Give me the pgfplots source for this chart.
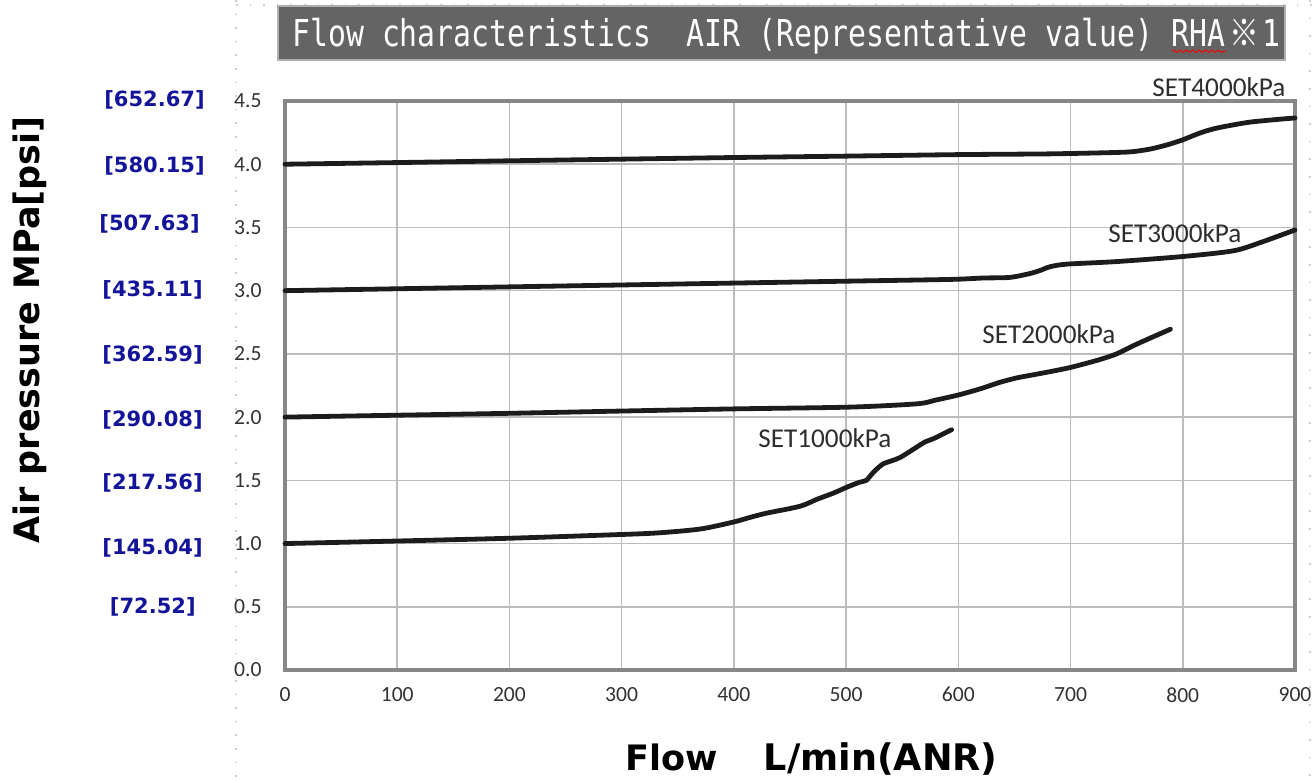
\documentclass[border=0pt]{standalone}
\usepackage{fontspec}
\usepackage{graphicx}
\usepackage{pgfplots}
\pgfplotsset{compat=1.18}
\usetikzlibrary{decorations.pathmorphing}
\setmainfont{Carlito}
\newfontfamily\verd{DejaVu Sans}
\newfontfamily\monof{DejaVu Sans Mono}
\newfontfamily\cjk{Noto Sans CJK JP}
\definecolor{psiblue}{RGB}{20,20,155}
\definecolor{titlegray}{RGB}{100,100,100}
\definecolor{gridgray}{RGB}{188,188,188}
\definecolor{framegray}{RGB}{135,135,135}
\definecolor{tickgray}{RGB}{50,50,50}
\definecolor{curvecol}{RGB}{28,28,28}
\definecolor{labgray}{RGB}{45,45,45}
\newcommand\wavy[1]{\tikz[baseline=(w.base)]{\node[inner sep=0pt,text=white](w){#1};\draw[red,line width=0.5pt,decorate,decoration={snake,amplitude=0.6pt,segment length=4pt}]([yshift=-2.2pt]w.base west)--([yshift=-2.2pt]w.base east);}}
\begin{document}
\begin{tikzpicture}
\useasboundingbox (-142.5pt,-56pt) rectangle (515.5pt,335pt);
% faint page guides
\draw[gray!40, line width=0.8pt, dash pattern=on 0.8pt off 6pt] (-24.5pt,335pt) -- (-24.5pt,-56pt);
\draw[gray!40, line width=0.8pt, dash pattern=on 0.8pt off 6pt] (-24.5pt,332.5pt) -- (515.5pt,332.5pt);
\draw[gray!40, line width=0.8pt, dash pattern=on 0.8pt off 8pt] (512.5pt,335pt) -- (512.5pt,-56pt);
\begin{axis}[
  at={(0pt,0pt)}, anchor=south west,
  scale only axis, width=505pt, height=284.5pt,
  xmin=0, xmax=900, ymin=0, ymax=4.5,
  xtick={0,100,200,300,400,500,600,700,800,900},
  xticklabels={0,100,200,300,400,500,600,700,800,900},
  ytick={0,0.5,1,1.5,2,2.5,3,3.5,4,4.5},
  yticklabels={0.0,0.5,1.0,1.5,2.0,2.5,3.0,3.5,4.0,4.5},
  /pgf/number format/assume math mode=true,
  major tick length=0pt,
  grid=major,
  major grid style={gridgray, line width=0.8pt},
  axis line style={framegray, line width=2.2pt},
  tick label style={font=\fontsize{10.8pt}{13pt}\selectfont, text=tickgray},
  yticklabel style={inner sep=0pt, xshift=-11.5pt},
  xticklabel style={inner sep=0pt, yshift=-8.5pt},
  clip=false,
  curve/.style={draw=curvecol, line width=2.4pt, line cap=round, line join=round, smooth, tension=0.45, mark=none},
]
% SET1000kPa
\addplot[curve] coordinates {(0,1.0) (100,1.02) (200,1.042) (281,1.066) (330,1.083) (370,1.115) (400,1.171) (414,1.206) (429,1.24) (459,1.295) (474,1.35) (489,1.40) (501,1.447) (512,1.485) (518,1.50) (524,1.56) (533,1.63) (548,1.68) (569,1.797) (578,1.83) (594,1.90)};
% SET2000kPa
\addplot[curve] coordinates {(0,2.0) (100,2.015) (200,2.03) (300,2.048) (400,2.065) (503,2.079) (563,2.105) (580,2.135) (600,2.175) (620,2.225) (637,2.275) (652,2.31) (667,2.335) (682,2.36) (701,2.395) (726,2.455) (741,2.5) (756,2.565) (771,2.625) (789,2.695)};
% SET3000kPa
\addplot[curve] coordinates {(0,3.0) (100,3.015) (200,3.03) (300,3.045) (400,3.06) (500,3.075) (593,3.089) (622,3.10) (646,3.105) (664,3.136) (673,3.16) (682,3.19) (697,3.21) (741,3.23) (800,3.27) (845,3.315) (869,3.38) (900,3.48)};
% SET4000kPa
\addplot[curve] coordinates {(0,4.0) (100,4.013) (200,4.027) (300,4.04) (400,4.053) (500,4.064) (600,4.076) (682,4.082) (741,4.093) (756,4.10) (771,4.12) (786,4.153) (800,4.193) (815,4.246) (830,4.285) (860,4.333) (900,4.366)};
% curve labels
\begin{scope}[every node/.style={anchor=base west, inner sep=0pt, text=labgray, font=\fontsize{13.6pt}{16pt}\selectfont}]
\node at (axis cs:772.6,4.532) {SET4000kPa};
\node at (axis cs:733.4,3.381) {SET3000kPa};
\node at (axis cs:621.1,2.582) {SET2000kPa};
\node at (axis cs:421.5,1.756) {SET1000kPa};
\end{scope}
% psi labels
\begin{scope}[every node/.style={anchor=east, inner sep=0pt, text=psiblue, font=\verd\bfseries\fontsize{10.5pt}{12pt}\selectfont}]
\node at (axis cs:-71.3,4.508) {[652.67]};
\node at (axis cs:-71.3,3.986) {[580.15]};
\node at (axis cs:-75.7,3.528) {[507.63]};
\node at (axis cs:-73,3.005) {[435.11]};
\node at (axis cs:-73,2.491) {[362.59]};
\node at (axis cs:-73,1.977) {[290.08]};
\node at (axis cs:-73,1.479) {[217.56]};
\node at (axis cs:-73,0.965) {[145.04]};
\node at (axis cs:-79.3,0.498) {[72.52]};
\end{scope}
\end{axis}
% title bar
\filldraw[fill=titlegray, draw={rgb,255:red,175;green,175;blue,175}, line width=0.6pt] (-3.5pt,305pt) rectangle (500pt,332pt);
\node[anchor=base west, inner sep=0pt, text=white] at (3.5pt,311.6pt) {\scalebox{0.805}[1]{\monof\fontsize{18.5pt}{22pt}\selectfont Flow characteristics~~AIR (Representative value) \wavy{RHA}\hspace{1.9pt}{\cjk ※}\hspace{1.9pt}1}};
% axis titles
\node[rotate=90, inner sep=0pt, font=\verd\bfseries\fontsize{17.5pt}{20pt}\selectfont] at (-127.5pt,170pt) {Air pressure MPa[psi]};
\node[anchor=base west, inner sep=0pt, font=\verd\bfseries\fontsize{17.5pt}{20pt}\selectfont] at (170pt,-50pt) {Flow\hspace{23pt}{\fontsize{18.3pt}{20pt}\selectfont L/min(ANR)}};
\end{tikzpicture}
\end{document}
